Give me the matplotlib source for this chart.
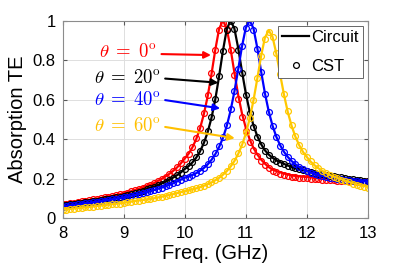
import numpy as np
import matplotlib.pyplot as plt
from matplotlib.lines import Line2D

plt.rcParams['font.family'] = 'Liberation Sans'
plt.rcParams['mathtext.fontset'] = 'cm'

# frequency sweep, 8-13 GHz
freq = 8 + 0.0625 * np.arange(81)

# circuit model absorption
circ_0 = [.070, .073, .076, .079, .082, .085, .088, .091, .095,
          .098, .101, .105, .109, .112, .116, .120, .124, .130,
          .136, .142, .148, .155, .162, .169, .177, .188, .198,
          .211, .224, .239, .256, .277, .301, .325, .357, .399,
          .453, .525, .615, .727, .851, .957, 1.000, .960, .859,
          .737, .623, .529, .456, .399, .355, .322, .296, .275,
          .258, .245, .238, .231, .225, .220, .216, .213, .211,
          .209, .208, .206, .203, .202, .200, .199, .198, .196,
          .195, .195, .194, .193, .193, .192, .192, .193, .196]
circ_20 = [.064, .067, .069, .072, .075, .077, .080, .083, .086,
           .089, .092, .095, .098, .101, .104, .108, .111, .116,
           .122, .127, .133, .139, .146, .152, .159, .167, .175,
           .184, .194, .205, .217, .231, .248, .262, .281, .305,
           .337, .379, .434, .506, .600, .717, .846, .955, 1.000,
           .960, .861, .742, .631, .540, .469, .415, .374, .343,
           .321, .305, .292, .283, .274, .266, .258, .252, .247,
           .242, .238, .234, .229, .226, .222, .219, .216, .213,
           .210, .207, .204, .201, .198, .195, .193, .190, .188]
circ_40 = [.059, .062, .064, .067, .069, .072, .075, .077, .080,
           .083, .086, .089, .092, .095, .098, .101, .104, .108,
           .113, .117, .122, .126, .131, .136, .142, .148, .154,
           .161, .168, .176, .185, .194, .204, .210, .218, .227,
           .239, .253, .271, .294, .323, .359, .405, .465, .543,
           .639, .752, .869, .963, 1.000, .961, .862, .743, .632,
           .540, .467, .411, .368, .335, .309, .288, .272, .258,
           .247, .238, .230, .224, .218, .214, .210, .206, .203,
           .200, .198, .195, .193, .191, .189, .187, .186, .184]
circ_60 = [.042, .044, .046, .048, .050, .052, .054, .056, .058,
           .061, .063, .065, .068, .070, .072, .074, .077, .080,
           .083, .086, .089, .091, .094, .097, .100, .104, .108,
           .112, .117, .121, .126, .131, .136, .140, .145, .150,
           .156, .163, .171, .180, .191, .203, .219, .237, .260,
           .288, .324, .369, .427, .502, .595, .705, .820, .913,
           .950, .917, .832, .726, .624, .536, .466, .411, .368,
           .334, .308, .285, .267, .252, .239, .228, .218, .210,
           .203, .196, .189, .183, .177, .171, .166, .162, .157]

# full-wave (CST) absorption
cst_0 = [.070, .072, .076, .078, .082, .085, .087, .091, .094,
         .098, .100, .104, .108, .112, .115, .120, .124, .129,
         .135, .141, .148, .154, .161, .169, .177, .187, .197,
         .210, .223, .238, .256, .277, .300, .326, .359, .403,
         .458, .532, .622, .733, .852, .950, .985, .955, .850,
         .725, .605, .512, .440, .386, .344, .313, .288, .268,
         .252, .240, .232, .225, .219, .214, .210, .207, .205,
         .203, .201, .199, .197, .195, .194, .192, .191, .190,
         .189, .188, .187, .186, .185, .184, .183, .182, .181]
cst_20 = [.064, .066, .069, .071, .074, .077, .080, .082, .085,
          .088, .091, .094, .098, .100, .104, .107, .111, .115,
          .121, .126, .132, .138, .145, .151, .158, .166, .174,
          .183, .193, .204, .216, .230, .247, .262, .282, .307,
          .340, .383, .439, .511, .605, .720, .848, .952, .995,
          .955, .852, .732, .622, .532, .462, .409, .369, .339,
          .317, .301, .289, .280, .272, .264, .257, .251, .246,
          .241, .237, .233, .229, .225, .222, .218, .215, .212,
          .209, .206, .203, .200, .197, .194, .191, .188, .185]
cst_40 = [.058, .061, .064, .066, .069, .071, .074, .077, .079,
          .082, .085, .088, .091, .094, .097, .100, .104, .107,
          .112, .116, .121, .125, .130, .135, .141, .147, .153,
          .160, .167, .175, .184, .193, .203, .210, .218, .228,
          .240, .255, .274, .298, .328, .365, .412, .472, .550,
          .645, .756, .870, .960, .990, .952, .855, .738, .628,
          .537, .465, .410, .367, .334, .308, .287, .271, .257,
          .246, .237, .229, .223, .217, .213, .209, .205, .202,
          .199, .196, .193, .191, .188, .186, .184, .182, .180]
cst_60 = [.041, .043, .045, .048, .050, .052, .054, .056, .058,
          .060, .062, .065, .067, .069, .071, .073, .076, .079,
          .083, .086, .088, .091, .094, .097, .100, .104, .108,
          .112, .116, .121, .126, .131, .136, .140, .145, .150,
          .156, .163, .171, .180, .191, .204, .220, .239, .262,
          .291, .328, .374, .433, .508, .600, .708, .818, .905,
          .940, .915, .835, .730, .628, .540, .470, .414, .371,
          .337, .310, .287, .268, .253, .240, .229, .219, .210,
          .202, .194, .187, .180, .174, .168, .162, .157, .153]

angles = ['0', '20', '40', '60']
line_colors = ['#FF0000', '#000000', '#0000FF', '#FFC800']
circ = [circ_0, circ_20, circ_40, circ_60]
cst = [cst_0, cst_20, cst_40, cst_60]

# annotation: label centre, arrow start, arrow tip (freq, absorption)
label_pos = [(9.07, 0.840), (9.07, 0.710), (9.07, 0.597), (9.07, 0.465)]
arrow_from = [(9.62, 0.830), (9.68, 0.706), (9.68, 0.597), (9.68, 0.461)]
arrow_to = [(10.43, 0.825), (10.55, 0.685), (10.58, 0.555), (10.82, 0.404)]
text_colors = ['#FF0000', '#000000', '#0000FF', '#FFC000']

fig = plt.figure(figsize=(4.07, 2.76), dpi=100)
ax = fig.add_axes([0.1536, 0.2101, 0.7506, 0.7156])

for c, y1, y2 in zip(line_colors, circ, cst):
    ax.plot(freq, y1, '-', color=c, lw=1.6)
    ax.plot(freq, y2, 'o', color=c, mfc='none', ms=4.2, mew=0.9)

for a, tc, p, s, e in zip(angles, text_colors, label_pos, arrow_from, arrow_to):
    ax.text(p[0], p[1], r'$\theta\;=\;%s^{\mathrm{o}}$' % a, color=tc,
            fontsize=13.5, ha='center', va='center')
    ax.annotate('', xy=e, xytext=s,
                arrowprops=dict(arrowstyle='-|>', color=tc, lw=1.5,
                                mutation_scale=10, shrinkA=0, shrinkB=0))

ax.set_xlim(8, 13)
ax.set_ylim(0, 1)
ax.set_xticks([8, 9, 10, 11, 12, 13])
ax.set_yticks([0, 0.2, 0.4, 0.6, 0.8, 1])
ax.set_yticklabels(['0', '0.2', '0.4', '0.6', '0.8', '1'])
ax.tick_params(labelsize=12, direction='in', length=3, top=True, right=True,
               color='0.35')
ax.tick_params(axis='x', pad=6)
ax.tick_params(axis='y', pad=5)
ax.grid(True, color='0.87', lw=0.7)
ax.set_axisbelow(True)
for sp in ax.spines.values():
    sp.set_color('0.55')
    sp.set_linewidth(0.8)

ax.set_xlabel('Freq. (GHz)', fontsize=14.5, labelpad=2)
ax.set_ylabel('Absorption TE', fontsize=14.5, labelpad=4)

handles = [Line2D([], [], color='k', lw=1.6),
           Line2D([], [], ls='none', marker='o', color='k', mfc='none',
                  ms=4.2, mew=0.9)]
leg = ax.legend(handles, ['Circuit', 'CST'], loc='upper right', fontsize=12,
                fancybox=False, framealpha=1, edgecolor='0.4',
                borderaxespad=0.3, handlelength=1.6, handletextpad=0.15,
                borderpad=0.25, labelspacing=0.85)
leg.get_frame().set_linewidth(0.7)

fig.savefig('out.png', dpi=100)
